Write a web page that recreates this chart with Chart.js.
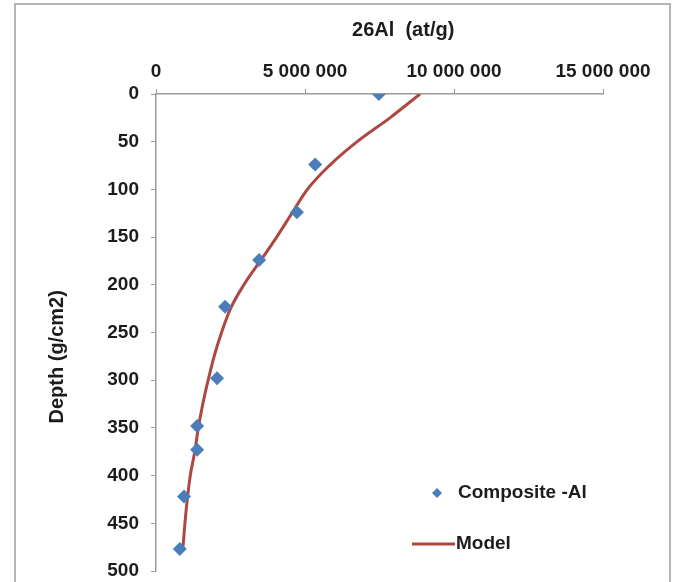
<!DOCTYPE html>
<html>
<head>
<meta charset="utf-8">
<script src="https://cdn.jsdelivr.net/npm/chart.js@4/dist/chart.umd.min.js"></script>
<style>
  html, body { margin: 0; padding: 0; background: #fff; }
  canvas { display: block; }
</style>
</head>
<body>
<canvas id="chart" width="677" height="582"></canvas>
<script>
// measured samples (blue diamonds)
var sampleDepth = [0, 74, 124, 174, 223, 298, 348, 373, 422, 477];
var sampleAl = [7480000, 5340000, 4730000, 3460000, 2320000, 2050000, 1380000, 1380000, 940000, 800000];

// model curve
var modelDepth = [0, 25, 50, 75, 100, 125, 150, 175, 200, 225, 250, 275, 300, 325, 350, 375, 400, 425, 450, 477];
var modelAl = [8860000, 7850000, 6750000, 5820000, 5080000, 4560000, 4050000, 3500000, 2950000, 2500000,
               2200000, 1950000, 1750000, 1570000, 1420000, 1300000, 1150000, 1050000, 970000, 900000];

var xTicks = [0, 5000000, 10000000, 15000000];
var yTicks = [0, 50, 100, 150, 200, 250, 300, 350, 400, 450, 500];

var xTitle = '26Al  (at/g)';
var yTitle = 'Depth (g/cm2)';
var seriesNames = ['Composite -Al', 'Model'];

var blue = '#4A7DBA';
var red = '#AE4741';
var axisGrey = '#9a9a9a';
var textCol = '#1c1c1c';
var fontFam = '"Liberation Sans", Arial, sans-serif';

function spaced(v) {
  return String(v).replace(/\B(?=(\d{3})+(?!\d))/g, ' ');
}

function pairs(xs, ys) {
  return xs.map(function (x, i) { return { x: x, y: ys[i] }; });
}

// frame round the whole chart + axis titles
var framePlugin = {
  id: 'frame',
  beforeDraw: function (chart) {
    var c = chart.ctx;
    c.save();
    c.fillStyle = '#fff';
    c.fillRect(0, 0, chart.width, chart.height);
    c.strokeStyle = '#b4b4b4';
    c.lineWidth = 2;
    c.strokeRect(15, 4, 655, chart.height + 10);
    c.restore();
  },
  afterDraw: function (chart) {
    var c = chart.ctx;
    var a = chart.chartArea;
    c.save();
    c.fillStyle = textCol;
    c.font = 'bold 20px ' + fontFam;
    c.textAlign = 'center';
    c.textBaseline = 'middle';
    c.fillText(xTitle, a.left + (a.right - a.left) * 0.553, 30);
    c.translate(57, a.top + (a.bottom - a.top) * 0.551);
    c.rotate(-Math.PI / 2);
    c.fillText(yTitle, 0, 0);
    c.restore();
  }
};

// legend inside plot area, lower right
var legendPlugin = {
  id: 'innerLegend',
  afterDraw: function (chart) {
    var c = chart.ctx;
    var a = chart.chartArea;
    var x0 = a.right - 166;
    var y0 = a.bottom - 78;
    c.save();
    c.font = 'bold 19px ' + fontFam;
    c.textBaseline = 'middle';
    // diamond
    c.fillStyle = blue;
    c.beginPath();
    c.moveTo(x0, y0 - 5);
    c.lineTo(x0 + 5, y0);
    c.lineTo(x0, y0 + 5);
    c.lineTo(x0 - 5, y0);
    c.closePath();
    c.fill();
    c.fillStyle = textCol;
    c.fillText(seriesNames[0], x0 + 21, y0);
    // line
    var y1 = y0 + 51;
    c.strokeStyle = red;
    c.lineWidth = 3;
    c.beginPath();
    c.moveTo(x0 - 25, y1);
    c.lineTo(x0 + 18, y1);
    c.stroke();
    c.fillText(seriesNames[1], x0 + 19, y1);
    c.restore();
  }
};

var ctx = document.getElementById('chart').getContext('2d');

var config = {
  type: 'scatter',
  data: {
    datasets: [
      {
        label: seriesNames[1],
        data: pairs(modelAl, modelDepth),
        showLine: true,
        borderColor: red,
        borderWidth: 3,
        pointRadius: 0,
        cubicInterpolationMode: 'monotone',
        order: 2
      },
      {
        label: seriesNames[0],
        data: pairs(sampleAl, sampleDepth),
        pointStyle: 'rectRot',
        pointRadius: 7,
        backgroundColor: blue,
        borderColor: blue,
        borderWidth: 0,
        order: 1
      }
    ]
  },
  options: {
    responsive: false,
    animation: false,
    layout: { padding: { left: 15, top: 0, right: 74, bottom: 0 } },
    scales: {
      x: {
        type: 'linear',
        position: 'top',
        min: 0,
        max: 15000000,
        afterBuildTicks: function (scale) {
          scale.ticks = xTicks.map(function (v) { return { value: v }; });
        },
        afterFit: function (scale) { scale.height = 94; },
        ticks: {
          callback: function (v) { return spaced(v); },
          color: textCol,
          font: { family: fontFam, size: 19, weight: 'bold' },
          padding: 6,
          maxRotation: 0
        },
        grid: { drawOnChartArea: false, tickLength: 5, color: axisGrey },
        border: { color: axisGrey, width: 1.5 }
      },
      y: {
        type: 'linear',
        reverse: true,
        min: 0,
        max: 500,
        afterBuildTicks: function (scale) {
          scale.ticks = yTicks.map(function (v) { return { value: v }; });
        },
        afterFit: function (scale) {
          scale.width = 141;
          scale.paddingBottom = 11;
        },
        ticks: {
          color: textCol,
          font: { family: fontFam, size: 19, weight: 'bold' },
          padding: 12
        },
        grid: { drawOnChartArea: false, tickLength: 5, color: axisGrey },
        border: { color: axisGrey, width: 1.5 }
      }
    },
    plugins: {
      legend: { display: false },
      tooltip: { enabled: false }
    }
  },
  plugins: [framePlugin, legendPlugin]
};

new Chart(ctx, config);
</script>
</body>
</html>
